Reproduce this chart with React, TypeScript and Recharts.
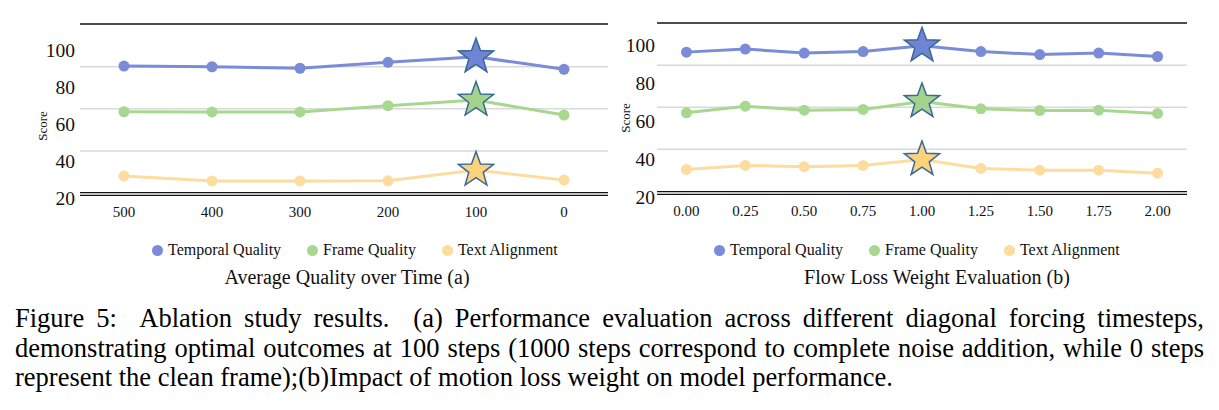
import React from 'react';
import { LineChart, Line, XAxis, YAxis, ReferenceLine, Legend } from 'recharts';

// ---------- data ----------
const timestepCategories = ['500', '400', '300', '200', '100', '0'];
const timestepTemporal = [91.3, 90.9, 90.1, 93.3, 96.3, 89.5];
const timestepFrame = [66.6, 66.5, 66.5, 69.9, 72.9, 64.8];
const timestepText = [31.9, 29.2, 29.2, 29.3, 35.1, 29.7];
const timestepBest = '100';

const weightCategories = ['0.00', '0.25', '0.50', '0.75', '1.00', '1.25', '1.50', '1.75', '2.00'];
const weightTemporal = [96.1, 97.7, 95.6, 96.4, 99.4, 96.4, 94.8, 95.6, 93.8];
const weightFrame = [64.2, 67.7, 65.6, 66.0, 70.2, 66.3, 65.4, 65.6, 63.9];
const weightText = [34.5, 36.6, 35.9, 36.6, 39.7, 35.0, 34.1, 34.1, 32.5];
const weightBest = '1.00';

const scoreTicks = [20, 40, 60, 80, 100];
const leftDomain = [20, 114];
const leftGridValues = [45.4, 68.2, 90.9];
const leftBaseValues = [22.86, 21.46];
const rightDomain = [20, 111.4];
const rightGridValues = [45.1, 67.2, 89.2];
const rightBaseValues = [22.8, 21.4];

const seriesNames = ['Temporal Quality', 'Frame Quality', 'Text Alignment'];
const seriesColors = ['#7a8cd8', '#a8d78f', '#fddc9f'];
const starColors = ['#6f84d2', '#a3d38b', '#fcd27a'];

const captionLines = [
  'Figure 5:  Ablation study results.  (a) Performance evaluation across different diagonal forcing timesteps,',
  'demonstrating optimal outcomes at 100 steps (1000 steps correspond to complete noise addition, while 0 steps',
  'represent the clean frame);(b)Impact of motion loss weight on model performance.',
];

const SERIF = '"Liberation Serif", "Times New Roman", serif';

const buildRows = (cats: string[], a: number[], b: number[], c: number[]) =>
  cats.map((category, i) => ({ category, temporal: a[i], frame: b[i], text: c[i] }));

const makeDot = (color: string, starColor: string, best: string) => (props: any) => {
  const { cx, cy, payload, index } = props;
  if (cx == null || cy == null) return <g key={`d-${index}`} />;
  if (payload && payload.category === best) {
    const pts: string[] = [];
    for (let i = 0; i < 10; i++) {
      const r = i % 2 === 0 ? 18.5 : 7.6;
      const a = -Math.PI / 2 + (i * Math.PI) / 5;
      pts.push(`${cx + r * Math.cos(a)},${cy + r * Math.sin(a)}`);
    }
    return (
      <polygon
        key={`d-${index}`}
        points={pts.join(' ')}
        fill={starColor}
        stroke="#3a6899"
        strokeWidth={1.5}
        strokeLinejoin="miter"
      />
    );
  }
  return <circle key={`d-${index}`} cx={cx} cy={cy} r={5.5} fill={color} />;
};

const makeLegend = (title: string) => (props: any) => {
  const payload = [...(props.payload || [])].sort(
    (a: any, b: any) => seriesNames.indexOf(a.value) - seriesNames.indexOf(b.value)
  );
  return (
    <div style={{ fontFamily: SERIF, color: '#111' }}>
      <div style={{ display: 'flex', alignItems: 'center', height: 20, whiteSpace: 'nowrap' }}>
        {payload.map((p: any, i: number) => (
          <span key={i} style={{ display: 'inline-flex', alignItems: 'center', marginRight: 26 }}>
            <svg width={11} height={11} style={{ display: 'block' }}>
              <circle cx={5.5} cy={5.5} r={5.5} fill={p.color} />
            </svg>
            <span style={{ marginLeft: 5, fontSize: 16, lineHeight: '20px' }}>{p.value}</span>
          </span>
        ))}
      </div>
      <div style={{ textAlign: 'center', fontSize: 20, lineHeight: '24px', marginTop: 5, whiteSpace: 'nowrap' }}>
        {title}
      </div>
    </div>
  );
};

type PanelProps = {
  rows: any[];
  best: string;
  domain: number[];
  gridValues: number[];
  baseValues: number[];
  width: number;
  height: number;
  margin: any;
  yWidth: number;
  yTickMargin: number;
  scoreDx: number;
  scoreDy: number;
  legendLeft: number;
  legendWidth: number;
  title: string;
};

const Panel = (p: PanelProps) => {
  const n = p.rows.length;
  const edgeTicks = Array.from({ length: n + 1 }, (_, i) => i);
  return (
    <LineChart width={p.width} height={p.height} data={p.rows} margin={p.margin}>
      <XAxis
        xAxisId="edges"
        type="number"
        domain={[0, n]}
        ticks={edgeTicks}
        allowDataOverflow
        tick={false}
        tickSize={4}
        height={0}
        axisLine={{ stroke: '#bfbfbf', strokeWidth: 1.5 }}
        tickLine={{ stroke: '#bfbfbf', strokeWidth: 1 }}
      />
      <XAxis
        xAxisId="cat"
        dataKey="category"
        scale="band"
        interval={0}
        axisLine={false}
        tickLine={false}
        tickSize={0}
        tickMargin={8}
        height={p.height - p.margin.top - 174}
        tick={{ fontSize: 15, fill: '#111', fontFamily: SERIF }}
      />
      <YAxis
        domain={p.domain}
        ticks={scoreTicks}
        allowDataOverflow
        width={p.yWidth}
        axisLine={false}
        tickLine={false}
        tickSize={0}
        tickMargin={p.yTickMargin}
        tick={{ fontSize: 19.5, fill: '#111', fontFamily: SERIF }}
        label={{
          value: 'Score',
          angle: -90,
          position: 'center',
          dx: p.scoreDx,
          dy: p.scoreDy,
          style: { fontSize: 13, fill: '#111', fontFamily: SERIF },
        }}
      />
      {p.gridValues.map((v) => (
        <ReferenceLine key={`g${v}`} xAxisId="cat" y={v} stroke="#d9d9d9" strokeWidth={1.5} />
      ))}
      <ReferenceLine xAxisId="cat" y={p.domain[1]} stroke="#111" strokeWidth={1.5} />
      {p.baseValues.map((v) => (
        <ReferenceLine key={`b${v}`} xAxisId="cat" y={v} stroke="#111" strokeWidth={1.2} />
      ))}
      <Legend
        verticalAlign="middle"
        align="center"
        layout="horizontal"
        wrapperStyle={{ left: p.legendLeft, top: 240, width: p.legendWidth }}
        content={makeLegend(p.title)}
      />
      {(['temporal', 'frame', 'text'] as const).map((key, i) => (
        <Line
          key={key}
          xAxisId="cat"
          type="linear"
          dataKey={key}
          name={seriesNames[i]}
          stroke={seriesColors[i]}
          strokeWidth={3}
          dot={makeDot(seriesColors[i], starColors[i], p.best)}
          activeDot={false}
          isAnimationActive={false}
        />
      ))}
    </LineChart>
  );
};

export default function App() {
  const leftRows = buildRows(timestepCategories, timestepTemporal, timestepFrame, timestepText);
  const rightRows = buildRows(weightCategories, weightTemporal, weightFrame, weightText);
  return (
    <div
      style={{
        position: 'absolute',
        left: 0,
        top: 0,
        width: 1219,
        height: 410,
        background: '#fff',
        overflow: 'hidden',
      }}
    >
      <div style={{ position: 'absolute', left: 0, top: 0 }}>
        <Panel
          rows={leftRows}
          best={timestepBest}
          domain={leftDomain}
          gridValues={leftGridValues}
          baseValues={leftBaseValues}
          width={610}
          height={300}
          margin={{ top: 24, right: 2, left: 0, bottom: 0 }}
          yWidth={80}
          yTickMargin={5}
          scoreDx={2}
          scoreDy={15}
          legendLeft={152}
          legendWidth={390}
          title="Average Quality over Time (a)"
        />
      </div>
      <div style={{ position: 'absolute', left: 610, top: 0 }}>
        <Panel
          rows={rightRows}
          best={weightBest}
          domain={rightDomain}
          gridValues={rightGridValues}
          baseValues={rightBaseValues}
          width={609}
          height={300}
          margin={{ top: 23, right: 32, left: 0, bottom: 0 }}
          yWidth={47}
          yTickMargin={2}
          scoreDx={-8}
          scoreDy={8}
          legendLeft={104}
          legendWidth={446}
          title="Flow Loss Weight Evaluation (b)"
        />
      </div>
      <div
        style={{
          position: 'absolute',
          left: 15,
          top: 304,
          width: 1189,
          fontFamily: SERIF,
          fontSize: 26.5,
          lineHeight: '29.5px',
          color: '#000',
        }}
      >
        {captionLines.map((line, i) => (
          <div
            key={i}
            style={{
              textAlign: i < 2 ? 'justify' : 'left',
              textAlignLast: i < 2 ? 'justify' : 'auto',
              whiteSpace: 'pre-wrap',
            }}
          >
            {line}
          </div>
        ))}
      </div>
    </div>
  );
}
